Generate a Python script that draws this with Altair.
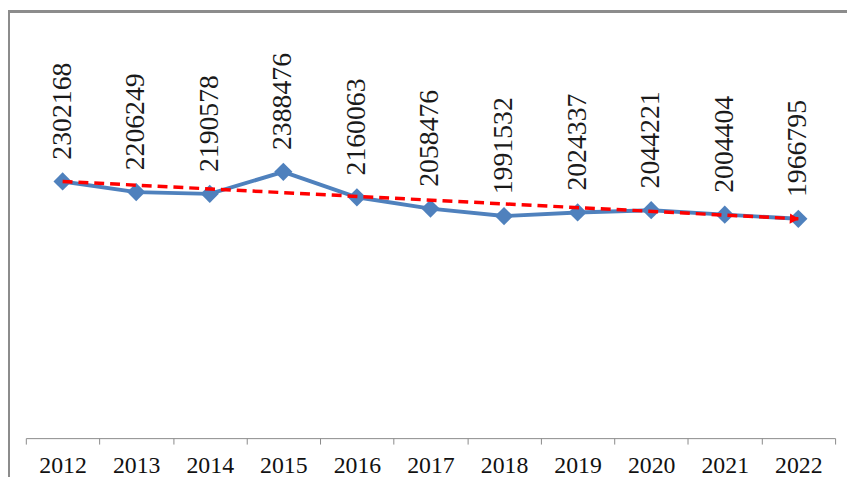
import altair as alt
import pandas as pd

years = ["2012", "2013", "2014", "2015", "2016", "2017", "2018", "2019", "2020", "2021", "2022"]
values = [2302168, 2206249, 2190578, 2388476, 2160063, 2058476, 1991532, 2024337, 2044221, 2004404, 1966795]
trend_years = ["2012", "2022"]
trend_values = [2302168, 1966795]

df = pd.DataFrame({"year": years, "value": values})
tdf = pd.DataFrame({"year": trend_years, "value": trend_values})
adf = tdf.iloc[[-1]]

SERIF = "Times New Roman"
W, H = 817, 394
xs = alt.X("year:N", sort=years,
           scale=alt.Scale(type="band", paddingInner=0, paddingOuter=0),
           axis=alt.Axis(title=None, labelAngle=0, tickBand="extent", domainColor="#8a8a8a",
                         tickColor="#8a8a8a", tickSize=6, labelFont=SERIF,
                         labelFontSize=24, labelColor="#111111", labelPadding=10, grid=False))
ys = alt.Y("value:Q", scale=alt.Scale(domain=[0, 3500000], nice=False, zero=True), axis=None)

line = alt.Chart(df).mark_line(color="#4f81bd", strokeWidth=4).encode(x=xs, y=ys)
pts = alt.Chart(df).mark_point(shape="diamond", filled=True, size=340, color="#4f81bd", opacity=1).encode(x=xs, y=ys)
labels = alt.Chart(df).mark_text(angle=270, align="left", baseline="middle", dx=22,
                                 font=SERIF, fontSize=28, color="#1a1a1a").encode(
    x=xs, y=ys, text=alt.Text("value:Q", format="d"))
trend = alt.Chart(tdf).mark_line(color="#ff0000", strokeWidth=3.5, strokeDash=[10, 6]).encode(x=xs, y=ys)
arrow = alt.Chart(adf).mark_point(shape="triangle-right", filled=True, size=110, color="#ff0000",
                                  angle=3, opacity=1, xOffset=-4).encode(x=xs, y=ys)

frame_left = alt.Chart(df).mark_rule(color="#8c8c8c", strokeWidth=2.5).encode(
    x=alt.value(-17.5), y=alt.value(-37), y2=alt.value(440))
frame_top = alt.Chart(df).mark_rule(color="#8c8c8c", strokeWidth=2.5).encode(
    x=alt.value(-18.5), x2=alt.value(840), y=alt.value(-37))

chart = alt.layer(frame_left, frame_top, line, pts, trend, arrow, labels).properties(
    width=W, height=H,
    autosize=alt.AutoSizeParams(type="none"),
    padding={"left": 18, "top": 38, "right": 12, "bottom": 37},
    background="white",
).configure_view(stroke=None)

chart.save("out.html", embed_options={"renderer": "svg", "actions": False})
